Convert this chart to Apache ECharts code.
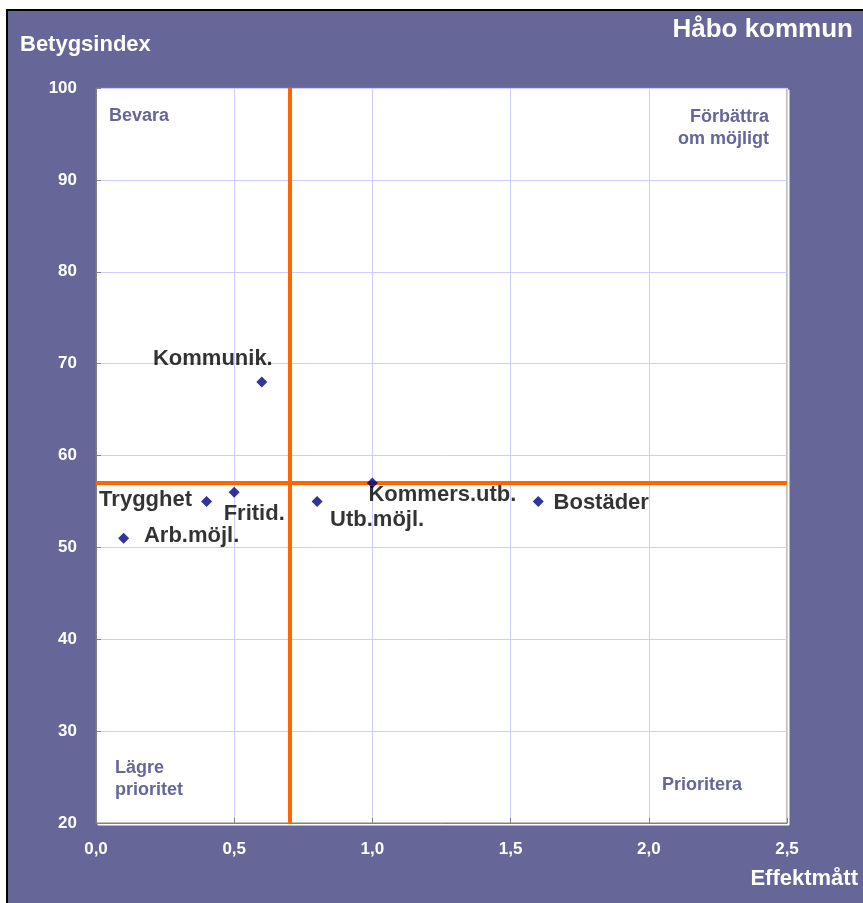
<!DOCTYPE html>
<html>
<head>
<meta charset="utf-8">
<script src="https://cdn.jsdelivr.net/npm/echarts@6/dist/echarts.min.js"></script>
<style>
  html, body { margin: 0; padding: 0; background: #fff; overflow: hidden; }
  #chart {
    position: absolute; left: 6px; top: 9px;
    width: 870px; height: 900px;
    border-left: 2px solid #000; border-top: 2px solid #000;
    background: #666699;
  }
</style>
</head>
<body>
<div id="chart"></div>
<script>
// Håbo kommun: effektmått vs betygsindex per område
const omraden = ["Kommunik.", "Trygghet", "Fritid.", "Arb.möjl.", "Utb.möjl.", "Kommers.utb.", "Bostäder"];
const effektmatt = [0.6, 0.4, 0.5, 0.1, 0.8, 1.0, 1.6];
const betygsindex = [68, 55, 56, 51, 55, 57, 55];

// quadrant boundaries (orange lines)
const gransEffekt = 0.7;
const gransBetyg = 57;

// axis ranges
const xMin = 0, xMax = 2.5, xStep = 0.5;
const yMin = 20, yMax = 100, yStep = 10;

// label placement around each diamond (px offset from the point centre)
const labelOffset = {
  "Kommunik.": [-49, -23],
  "Trygghet": [-61, -2],
  "Fritid.": [20, 22],
  "Arb.möjl.": [68, -2],
  "Utb.möjl.": [60, 18],
  "Kommers.utb.": [70, 12],
  "Bostäder": [63, 1],
};

const FONT = 'Arial, "Liberation Sans", sans-serif';
const PURPLE = "#666699";

const chart = echarts.init(document.getElementById("chart"), null, { renderer: "canvas" });

const points = omraden.map((name, i) => ({
  name,
  value: [effektmatt[i], betygsindex[i]],
  label: { offset: labelOffset[name] },
}));

const quadText = (text, x, y, align) => ({
  type: "text", x, y, silent: true,
  style: {
    text, fill: PURPLE, font: `bold 18px ${FONT}`,
    textAlign: align, textVerticalAlign: "middle", lineHeight: 22,
  },
});

chart.setOption({
  animation: false,
  backgroundColor: PURPLE,
  grid: {
    show: true, left: 88, top: 77, width: 691, height: 735,
    backgroundColor: "#fff", borderColor: "#808080", borderWidth: 1,
    shadowColor: "#fff", shadowBlur: 0, shadowOffsetX: 2, shadowOffsetY: 2,
  },
  xAxis: {
    type: "value", min: xMin, max: xMax, interval: xStep,
    axisLine: { show: true, lineStyle: { color: "#808080" } },
    axisTick: { show: true, inside: true, length: 5, lineStyle: { color: "#808080" } },
    splitLine: { show: true, lineStyle: { color: "#CCCCFF", width: 1 } },
    axisLabel: {
      color: "#fff", fontWeight: "bold", fontSize: 17, fontFamily: FONT, margin: 18,
      formatter: (v) => v.toFixed(1).replace(".", ","),
    },
  },
  yAxis: {
    type: "value", min: yMin, max: yMax, interval: yStep,
    axisLine: { show: true, lineStyle: { color: "#808080" } },
    axisTick: { show: true, inside: true, length: 5, lineStyle: { color: "#808080" } },
    splitLine: { show: true, lineStyle: { color: "#CCCCFF", width: 1 } },
    axisLabel: { color: "#fff", fontWeight: "bold", fontSize: 17, fontFamily: FONT, margin: 19 },
  },
  graphic: [
    { type: "text", x: 845, y: 19, silent: true,
      style: { text: "Håbo kommun", fill: "#fff", font: `bold 26px ${FONT}`, textAlign: "right", textVerticalAlign: "middle" } },
    { type: "text", x: 12, y: 34, silent: true,
      style: { text: "Betygsindex", fill: "#fff", font: `bold 22px ${FONT}`, textAlign: "left", textVerticalAlign: "middle" } },
    { type: "text", x: 850, y: 868, silent: true,
      style: { text: "Effektmått", fill: "#fff", font: `bold 22px ${FONT}`, textAlign: "right", textVerticalAlign: "middle" } },
    quadText("Bevara", 101, 105, "left"),
    quadText("Förbättra\nom möjligt", 761, 117, "right"),
    quadText("Lägre\nprioritet", 107, 768, "left"),
    quadText("Prioritera", 654, 774, "left"),
  ],
  series: [
    {
      name: "Gränser", type: "scatter", data: [], z: 1,
      markLine: {
        z: 1, silent: true, symbol: "none", label: { show: false },
        lineStyle: { color: "#FF6600", width: 4, type: "solid" },
        emphasis: { disabled: true },
        data: [{ xAxis: gransEffekt }, { yAxis: gransBetyg }],
      },
    },
    {
      name: "Områden", type: "scatter", z: 6,
      symbol: "diamond", symbolSize: 11,
      itemStyle: { color: "#000080" },
      emphasis: { disabled: true },
      label: {
        show: true, position: "inside", formatter: "{b}",
        color: "#000", fontWeight: "bold", fontSize: 22, fontFamily: FONT,
        textBorderWidth: 0, textBorderColor: "transparent",
        align: "center", verticalAlign: "middle",
      },
      data: points,
    },
  ],
});
</script>
</body>
</html>
